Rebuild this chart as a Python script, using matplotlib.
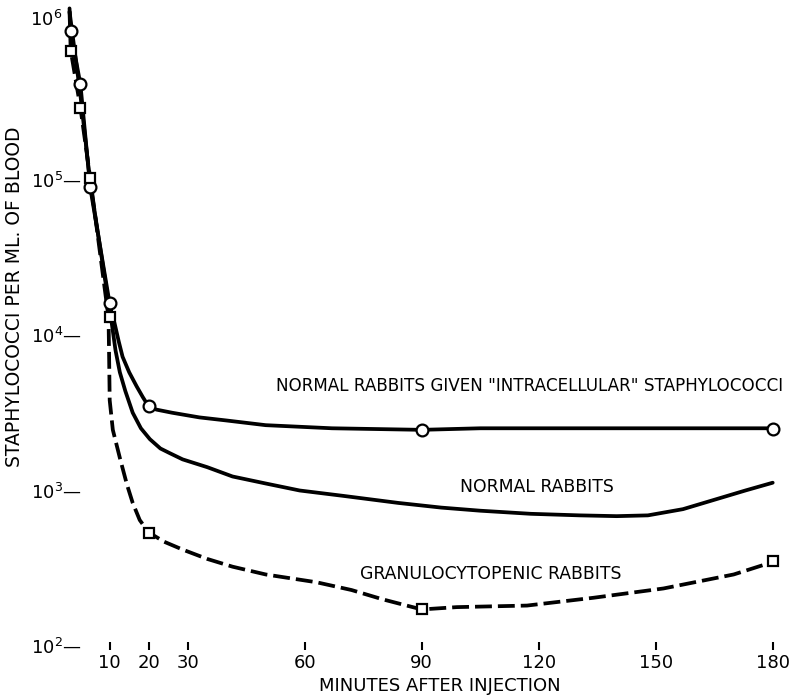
import numpy as np
import matplotlib
matplotlib.use("Agg")
import matplotlib.pyplot as plt

# marker points (minutes, staphylococci per ml)
mark_t = [0, 2.5, 5, 10, 20, 90, 180]
intra_marks = [9.0e5, 4.1e5, 9.0e4, 1.6e4, 3.5e3, 2.45e3, 2.5e3]
granulo_marks = [6.7e5, 2.9e5, 1.02e5, 1.3e4, 5.3e2, 1.72e2, 3.5e2]

# curves (log10 of count)
intra_t = [-0.3, 0, 2.5, 5, 10, 10.6, 11.3, 12.3, 13.3, 15, 16.9, 18.5, 20, 22, 26,
           33, 40, 50, 67, 90, 105, 139, 173, 180]
intra_log = [6.10, 5.95, 5.61, 4.95, 4.20, 4.13, 4.07, 3.96, 3.86, 3.76, 3.67, 3.60,
             3.54, 3.52, 3.50, 3.47, 3.45, 3.42, 3.40, 3.39, 3.40, 3.40, 3.40, 3.40]

normal_t = [-0.3, 2.5, 5, 10.5, 11.5, 12.6, 14, 15.9, 18, 20.3, 23, 25.4, 28.7, 35,
            41.5, 50, 58.7, 70, 84, 95, 105, 118, 130.5, 140, 148, 157, 165, 173, 180]
normal_log = [6.08, 5.54, 4.98, 4.08, 3.90, 3.76, 3.64, 3.50, 3.40, 3.33, 3.27, 3.24,
              3.20, 3.15, 3.09, 3.045, 3.00, 2.965, 2.92, 2.89, 2.87, 2.85, 2.84,
              2.835, 2.84, 2.88, 2.94, 3.00, 3.05]

granulo_t = [-0.3, 0, 2.5, 5, 9.7, 9.85, 10.0, 10.8, 12.6, 14.4, 15.9, 17.7, 20, 24,
             28.7, 35, 41.5, 50, 63, 72, 80, 90, 99, 117, 134, 152, 170, 180]
granulo_log = [6.08, 5.83, 5.46, 5.01, 4.11, 3.86, 3.58, 3.39, 3.21, 3.04, 2.92, 2.81,
               2.73, 2.67, 2.62, 2.56, 2.51, 2.46, 2.41, 2.36, 2.30, 2.235, 2.25, 2.26,
               2.31, 2.37, 2.46, 2.54]

xticks = [10, 20, 30, 60, 90, 120, 150, 180]
yticks = [1e2, 1e3, 1e4, 1e5]
ylabels = [r"10$^2$" + "\u2014", r"10$^3$" + "\u2014", r"10$^4$" + "\u2014", r"10$^5$" + "\u2014"]

plt.rcParams['font.family'] = ['DejaVu Sans']

fig = plt.figure(figsize=(7.9, 6.96), dpi=100)
ax = fig.add_axes([59 / 790, 50 / 696, 729.3 / 790, 646 / 696])
ax.set_yscale('log')
ax.set_xlim(-3, 184)
ax.set_ylim(1e2, 10 ** 6.154)

lw = 2.7
ax.plot(intra_t, 10 ** np.array(intra_log), color='black', lw=lw,
        solid_capstyle='round', solid_joinstyle='round', clip_on=False)
ax.plot(normal_t, 10 ** np.array(normal_log), color='black', lw=lw,
        solid_capstyle='round', solid_joinstyle='round', clip_on=False)
ax.plot(granulo_t, 10 ** np.array(granulo_log), color='black', lw=lw,
        dashes=(4.5, 1.6), clip_on=False)

ax.plot(mark_t, intra_marks, 'o', ms=8.5, mfc='white', mec='black', mew=1.6,
        clip_on=False, zorder=5)
ax.plot(mark_t, granulo_marks, 's', ms=7.5, mfc='white', mec='black', mew=1.6,
        clip_on=False, zorder=5)

for s in ax.spines.values():
    s.set_visible(False)

ax.set_xticks(xticks)
ax.set_xticklabels([str(v) for v in xticks], fontsize=13)
ax.tick_params(axis='x', direction='inout', length=6, width=1.5, pad=3)
ax.set_yticks(yticks)
ax.set_yticklabels(ylabels, fontsize=13)
ax.yaxis.set_minor_locator(matplotlib.ticker.NullLocator())
ax.tick_params(axis='y', length=0, pad=-16.6)

fig.text(62 / 790, 1 - 20 / 696, r"10$^6$", fontsize=13, ha='right', va='center')

ax.text(117.7, 10 ** 3.67, 'NORMAL RABBITS GIVEN "INTRACELLULAR" STAPHYLOCOCCI',
        fontsize=12.1, ha='center', va='center')
ax.text(119.5, 10 ** 3.02, 'NORMAL RABBITS', fontsize=12.4, ha='center', va='center')
ax.text(107.7, 10 ** 2.46, 'GRANULOCYTOPENIC RABBITS', fontsize=12.4,
        ha='center', va='center')

fig.text(440 / 790, 1 - 686 / 696, 'MINUTES AFTER INJECTION', fontsize=13,
         ha='center', va='center')
fig.text(15 / 790, 1 - 297 / 696, 'STAPHYLOCOCCI PER ML. OF BLOOD', fontsize=13.5,
         ha='center', va='center', rotation=90)

fig.savefig('out.png', dpi=100)
